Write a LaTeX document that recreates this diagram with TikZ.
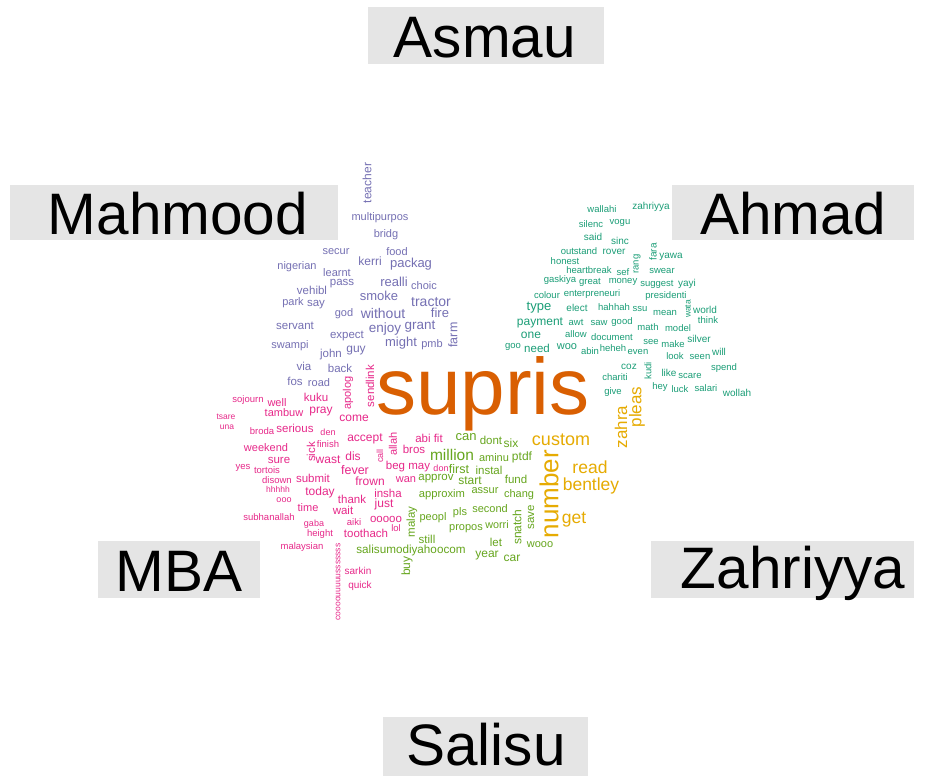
\documentclass[tikz,border=0pt]{standalone}
\usepackage{fontspec}
\setmainfont{Liberation Sans}
\definecolor{cA}{HTML}{D95F02}
\definecolor{cH}{HTML}{1B9E77}
\definecolor{cM}{HTML}{7570B3}
\definecolor{cB}{HTML}{E7298A}
\definecolor{cS}{HTML}{66A61E}
\definecolor{cZ}{HTML}{E6AB02}
\definecolor{lblgray}{HTML}{E5E5E5}
\newcounter{wc}
\tikzset{
  wordstyle/.style={inner sep=0pt, outer sep=0pt, anchor=center},
  lblbox/.style={fill=lblgray, draw=none, inner sep=0pt},
  lbltext/.style={anchor=base, inner sep=0pt, text=black, font=\fontsize{58.5}{60}\selectfont}
}
\newcommand\wh[5]{\stepcounter{wc}\node[wordstyle, text=#4, font=\fontsize{#3}{#3}\selectfont] (w\thewc) at (#1,#2) {#5};}
\newcommand\wv[5]{\stepcounter{wc}\node[wordstyle, rotate=90, text=#4, font=\fontsize{#3}{#3}\selectfont] (w\thewc) at (#1,#2) {#5};}
\begin{document}
\begin{tikzpicture}[x=1pt, y=-1pt]
\path[use as bounding box, fill=white] (0,0) rectangle (926,776);
% label boxes
\path[lblbox] (368,7) rectangle (604,64);
\path[lblbox] (10,185) rectangle (338,240);
\path[lblbox] (672,185) rectangle (914,240);
\path[lblbox] (98,541) rectangle (260,598);
\path[lblbox] (651,541) rectangle (914,598);
\path[lblbox] (383,717) rectangle (588,776);
\node[lbltext] (lAsmau) at (485,58) {Asmau};
\node[lbltext] (lMahmood) at (178,234) {Mahmood};
\node[lbltext] (lAhmad) at (793,234) {Ahmad};
\node[lbltext] (lMBA) at (179,591) {MBA};
\node[lbltext] (lZahriyya) at (793,588) {Zahriyya};
\node[lbltext] (lSalisu) at (486,765) {Salisu};
% Asmau
\wh{483}{394}{80}{cA}{supris}
% Mahmood
\wv{367}{183}{12}{cM}{teacher}
\wh{380}{218}{11}{cM}{multipurpos}
\wh{386}{235}{11}{cM}{bridg}
\wh{336}{252}{11}{cM}{secur}
\wh{397}{252}{11}{cM}{food}
\wh{370}{261}{12}{cM}{kerri}
\wh{411}{264}{13}{cM}{packag}
\wh{297}{267}{11}{cM}{nigerian}
\wh{337}{273}{11}{cM}{learnt}
\wh{394}{282}{13}{cM}{realli}
\wh{424}{286}{11}{cM}{choic}
\wh{312}{290}{11.5}{cM}{vehibl}
\wh{342}{284}{11.5}{cM}{pass}
\wh{379}{296}{13}{cM}{smoke}
\wh{431}{302}{14}{cM}{tractor}
\wh{293}{303}{11}{cM}{park}
\wh{316}{305}{11.5}{cM}{say}
\wh{344}{314}{11}{cM}{god}
\wh{383}{313}{14}{cM}{without}
\wh{440}{313}{13}{cM}{fire}
\wh{295}{326}{11.5}{cM}{servant}
\wh{347}{336}{11.5}{cM}{expect}
\wh{385}{329}{13.5}{cM}{enjoy}
\wh{420}{327}{13.5}{cM}{grant}
\wv{453}{335}{12.5}{cM}{farm}
\wh{290}{346}{11}{cM}{swampi}
\wh{401}{343}{13}{cM}{might}
\wh{432}{345}{11}{cM}{pmb}
\wh{331}{355}{11.5}{cM}{john}
\wh{356}{351}{12}{cM}{guy}
\wh{304}{366}{11.5}{cM}{via}
\wh{340}{368}{11.5}{cM}{back}
\wh{295}{381}{11.5}{cM}{fos}
\wh{319}{383}{11}{cM}{road}
% MBA
\wv{348}{393}{11}{cB}{apolog}
\wv{370}{386}{11.5}{cB}{sendlink}
\wh{354}{418}{12}{cB}{come}
\wh{365}{439}{12}{cB}{accept}
\wv{393}{444}{11}{cB}{allah}
\wh{429}{438}{11.5}{cB}{abi fit}
\wh{414}{449}{11.5}{cB}{bros}
\wv{380}{456}{9}{cB}{call}
\wh{353}{456}{12}{cB}{dis}
\wh{355}{470}{12.5}{cB}{fever}
\wh{408}{467}{11.5}{cB}{beg may}
\wh{441}{468}{9}{cB}{don}
\wh{370}{481}{12}{cB}{frown}
\wh{406}{480}{11}{cB}{wan}
\wh{248}{400}{9.5}{cB}{sojourn}
\wh{277}{403}{11}{cB}{well}
\wh{316}{397}{11.5}{cB}{kuku}
\wh{284}{413}{11}{cB}{tambuw}
\wh{321}{412}{12}{cB}{pray}
\wh{226}{417}{8.5}{cB}{tsare}
\wh{227}{427}{8.5}{cB}{una}
\wh{262}{431}{9.5}{cB}{broda}
\wh{295}{428}{11.5}{cB}{serious}
\wh{328}{432}{9}{cB}{den}
\wh{266}{448}{11}{cB}{weekend}
\wv{311}{452}{11.5}{cB}{sick}
\wh{328}{444}{9.5}{cB}{finish}
\wh{328}{460}{12}{cB}{wast}
\wh{279}{460}{11.5}{cB}{sure}
\wh{243}{468}{9.5}{cB}{yes}
\wh{267}{470}{9.5}{cB}{tortois}
\wh{277}{480}{9.5}{cB}{disown}
\wh{313}{478}{11.5}{cB}{submit}
\wh{278}{489}{8.5}{cB}{hhhhh}
\wh{320}{492}{12}{cB}{today}
\wh{284}{500}{9}{cB}{ooo}
\wh{352}{499}{11.5}{cB}{thank}
\wh{388}{493}{11.5}{cB}{insha}
\wh{384}{504}{12}{cB}{just}
\wh{308}{508}{11}{cB}{time}
\wh{343}{510}{11.5}{cB}{wait}
\wh{269}{517}{9.5}{cB}{subhanallah}
\wh{314}{524}{9}{cB}{gaba}
\wh{354}{522}{9.5}{cB}{aiki}
\wh{386}{519}{11.5}{cB}{ooooo}
\wh{396}{528}{9.5}{cB}{lol}
\wh{320}{534}{9.5}{cB}{height}
\wh{366}{533}{11.5}{cB}{toothach}
\wh{302}{547}{9.5}{cB}{malaysian}
\wv{338}{582}{8.5}{cB}{coooouuuuusssssss}
\wh{358}{571}{10}{cB}{sarkin}
\wh{360}{586}{10}{cB}{quick}
% Salisu
\wh{466}{437}{13}{cS}{can}
\wh{491}{440}{11.5}{cS}{dont}
\wh{511}{443}{12}{cS}{six}
\wh{452}{455}{15.5}{cS}{million}
\wh{494}{458}{11}{cS}{aminu}
\wh{522}{457}{12}{cS}{ptdf}
\wh{459}{469}{12.5}{cS}{first}
\wh{489}{470}{11.5}{cS}{instal}
\wh{436}{479}{11.5}{cS}{approv}
\wh{470}{481}{12}{cS}{start}
\wh{516}{479}{11.5}{cS}{fund}
\wh{485}{491}{11}{cS}{assur}
\wh{519}{495}{11}{cS}{chang}
\wh{442}{495}{11.2}{cS}{approxim}
\wv{412}{522}{11.5}{cS}{malay}
\wh{433}{518}{11}{cS}{peopl}
\wh{460}{513}{11}{cS}{pls}
\wh{490}{509}{11}{cS}{second}
\wh{466}{529}{11}{cS}{propos}
\wh{497}{525}{10.8}{cS}{worri}
\wv{517}{527}{12}{cS}{snatch}
\wv{531}{517}{11.5}{cS}{save}
\wh{427}{539}{11.5}{cS}{still}
\wh{496}{542}{11.5}{cS}{let}
\wh{540}{545}{11}{cS}{wooo}
\wh{411}{550}{11.7}{cS}{salisumodiyahoocom}
\wv{407}{566}{12}{cS}{buy}
\wh{487}{556}{12}{cS}{year}
\wh{512}{558}{12}{cS}{car}
% Zahriyya
\wh{561}{440}{18}{cZ}{custom}
\wv{549}{494}{26}{cZ}{number}
\wh{590}{467}{17.5}{cZ}{read}
\wh{591}{486}{17.5}{cZ}{bentley}
\wh{574}{520}{17.5}{cZ}{get}
\wv{621}{427}{17}{cZ}{zahra}
\wv{637}{407}{17}{cZ}{pleas}
% Ahmad
\wh{602}{209}{9.5}{cH}{wallahi}
\wh{651}{207}{10}{cH}{zahriyya}
\wh{591}{224}{9.5}{cH}{silenc}
\wh{620}{223}{9.5}{cH}{vogu}
\wh{593}{237}{10}{cH}{said}
\wh{620}{241}{10}{cH}{sinc}
\wh{579}{251}{9.5}{cH}{outstand}
\wh{614}{252}{10}{cH}{rover}
\wv{653}{252}{10}{cH}{fara}
\wh{671}{257}{10}{cH}{yawa}
\wh{565}{261}{9.5}{cH}{honest}
\wv{637}{264}{9.5}{cH}{rang}
\wh{589}{270}{9.5}{cH}{heartbreak}
\wh{623}{272}{9.5}{cH}{sef}
\wh{662}{271}{9.5}{cH}{swear}
\wh{560}{280}{9.5}{cH}{gaskiya}
\wh{590}{282}{9.5}{cH}{great}
\wh{623}{282}{9.5}{cH}{money}
\wh{657}{284}{9.5}{cH}{suggest}
\wh{687}{284}{10}{cH}{yayi}
\wh{547}{295}{9.5}{cH}{colour}
\wh{592}{294}{9.5}{cH}{enterpreneuri}
\wh{666}{296}{9.5}{cH}{presidenti}
\wh{539}{308}{13}{cH}{type}
\wh{577}{308}{10}{cH}{elect}
\wh{614}{307}{9.5}{cH}{hahhah}
\wh{640}{309}{9.5}{cH}{ssu}
\wh{665}{313}{9.5}{cH}{mean}
\wv{688}{309}{8.5}{cH}{wata}
\wh{705}{310}{10}{cH}{world}
\wh{708}{320}{9.5}{cH}{think}
\wh{540}{323}{12}{cH}{payment}
\wh{576}{322}{9.5}{cH}{awt}
\wh{599}{323}{9.5}{cH}{saw}
\wh{622}{322}{9.5}{cH}{good}
\wh{648}{327}{9.5}{cH}{math}
\wh{678}{328}{9.5}{cH}{model}
\wh{531}{335}{12}{cH}{one}
\wh{576}{334}{9.5}{cH}{allow}
\wh{612}{337}{9.5}{cH}{document}
\wh{651}{342}{9.5}{cH}{see}
\wh{673}{344}{9.5}{cH}{make}
\wh{699}{339}{10}{cH}{silver}
\wh{513}{347}{9.5}{cH}{goo}
\wh{537}{348}{11.5}{cH}{need}
\wh{567}{347}{11}{cH}{woo}
\wh{590}{351}{9.5}{cH}{abin}
\wh{613}{348}{9.5}{cH}{heheh}
\wh{638}{352}{9.5}{cH}{even}
\wh{675}{356}{9.5}{cH}{look}
\wh{700}{357}{9.5}{cH}{seen}
\wh{719}{352}{10}{cH}{will}
\wh{629}{367}{10}{cH}{coz}
\wv{648}{371}{9.5}{cH}{kudi}
\wh{615}{377}{9.5}{cH}{chariti}
\wh{669}{373}{10}{cH}{like}
\wh{690}{376}{9.5}{cH}{scare}
\wh{724}{368}{9.5}{cH}{spend}
\wh{613}{392}{9.5}{cH}{give}
\wh{660}{387}{9.5}{cH}{hey}
\wh{680}{389}{9.5}{cH}{luck}
\wh{706}{388}{9.5}{cH}{salari}
\wh{737}{393}{10}{cH}{wollah}
\end{tikzpicture}
\end{document}
